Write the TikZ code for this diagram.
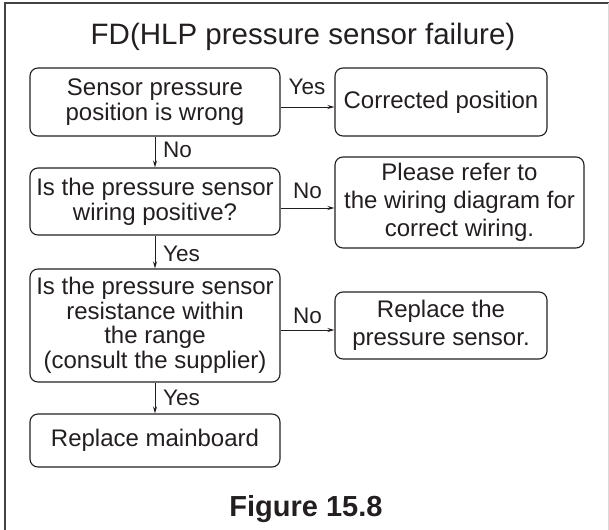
\documentclass[tikz,border=0pt]{standalone}
\usepackage{fontspec}
\setmainfont{Liberation Sans}
\usetikzlibrary{arrows.meta}
\definecolor{ink}{HTML}{231F20}
\begin{document}
\begin{tikzpicture}[x=1pt,y=-1pt,
  box/.style={draw=ink, line width=1.1pt, rounded corners=8pt, align=center, inner sep=0pt, text=ink, font=\fontsize{24}{25}\selectfont},
  rbox/.style={font=\fontsize{24}{28}\selectfont},
  arr/.style={draw=ink, line width=0.9pt, -{Stealth[length=7pt,width=4pt]}},
  lab/.style={text=ink, inner sep=0pt, font=\fontsize{22.5}{24}\selectfont}
]
\useasboundingbox (0,0) rectangle (609,529);
% frame
\draw[line width=2pt, color=ink!85] (5,535) -- (5,3) -- (609,3);
\draw[line width=0.8pt, color=black!15] (608,3) -- (608,535);
% title
\node[anchor=base, inner sep=0pt, text=ink, font=\fontsize{29.5}{30}\selectfont] (title) at (303,45) {FD(HLP pressure sensor failure)};
% boxes
\node[box, minimum width=250pt, minimum height=68pt] (b1) at (155,102) {Sensor pressure\\position is wrong};
\node[box, rbox, minimum width=212pt, minimum height=68pt] (b2) at (441,102) {Corrected position};
\node[box, minimum width=250pt, minimum height=67pt] (b3) at (155,201.5) {Is the pressure sensor\\wiring positive?};
\node[box, rbox, minimum width=249pt, minimum height=91pt] (b4) at (459.5,202.5) {Please refer to\\the wiring diagram for\\correct wiring.};
\node[box, font=\fontsize{24}{24.5}\selectfont, minimum width=250pt, minimum height=113pt] (b5) at (155,325.5) {Is the pressure sensor\\resistance within\\the range\\(consult the supplier)};
\node[box, rbox, minimum width=212pt, minimum height=67pt] (b6) at (441,325.5) {Replace the\\pressure sensor.};
\node[box, minimum width=250pt, minimum height=53pt] (b7) at (155,440.5) {Replace mainboard};
% connectors
\draw[arr] ([yshift=-5pt]b1.east) -- ([yshift=-5pt]b1.east -| b2.west);
\draw[arr] ([yshift=-6.5pt]b3.east) -- ([yshift=-6.5pt]b3.east -| b4.west);
\draw[arr] ([yshift=-4.5pt]b5.east) -- ([yshift=-4.5pt]b5.east -| b6.west);
\draw[arr] (b1.south) -- (b3.north);
\draw[arr] (b3.south) -- (b5.north);
\draw[arr] (b5.south) -- (b7.north);
% labels
\node[lab, anchor=base] (l1) at (307,95) {Yes};
\node[lab, anchor=base west] (l2) at (163,158) {No};
\node[lab, anchor=base] (l3) at (307.5,198) {No};
\node[lab, anchor=base west] (l4) at (163,261) {Yes};
\node[lab, anchor=base] (l5) at (307.5,323) {No};
\node[lab, anchor=base west] (l6) at (163,405) {Yes};
% caption
\node[anchor=base, inner sep=0pt, text=ink, font=\bfseries\fontsize{29}{30}\selectfont] (fig) at (306,516) {Figure 15.8};
\end{tikzpicture}
\end{document}
